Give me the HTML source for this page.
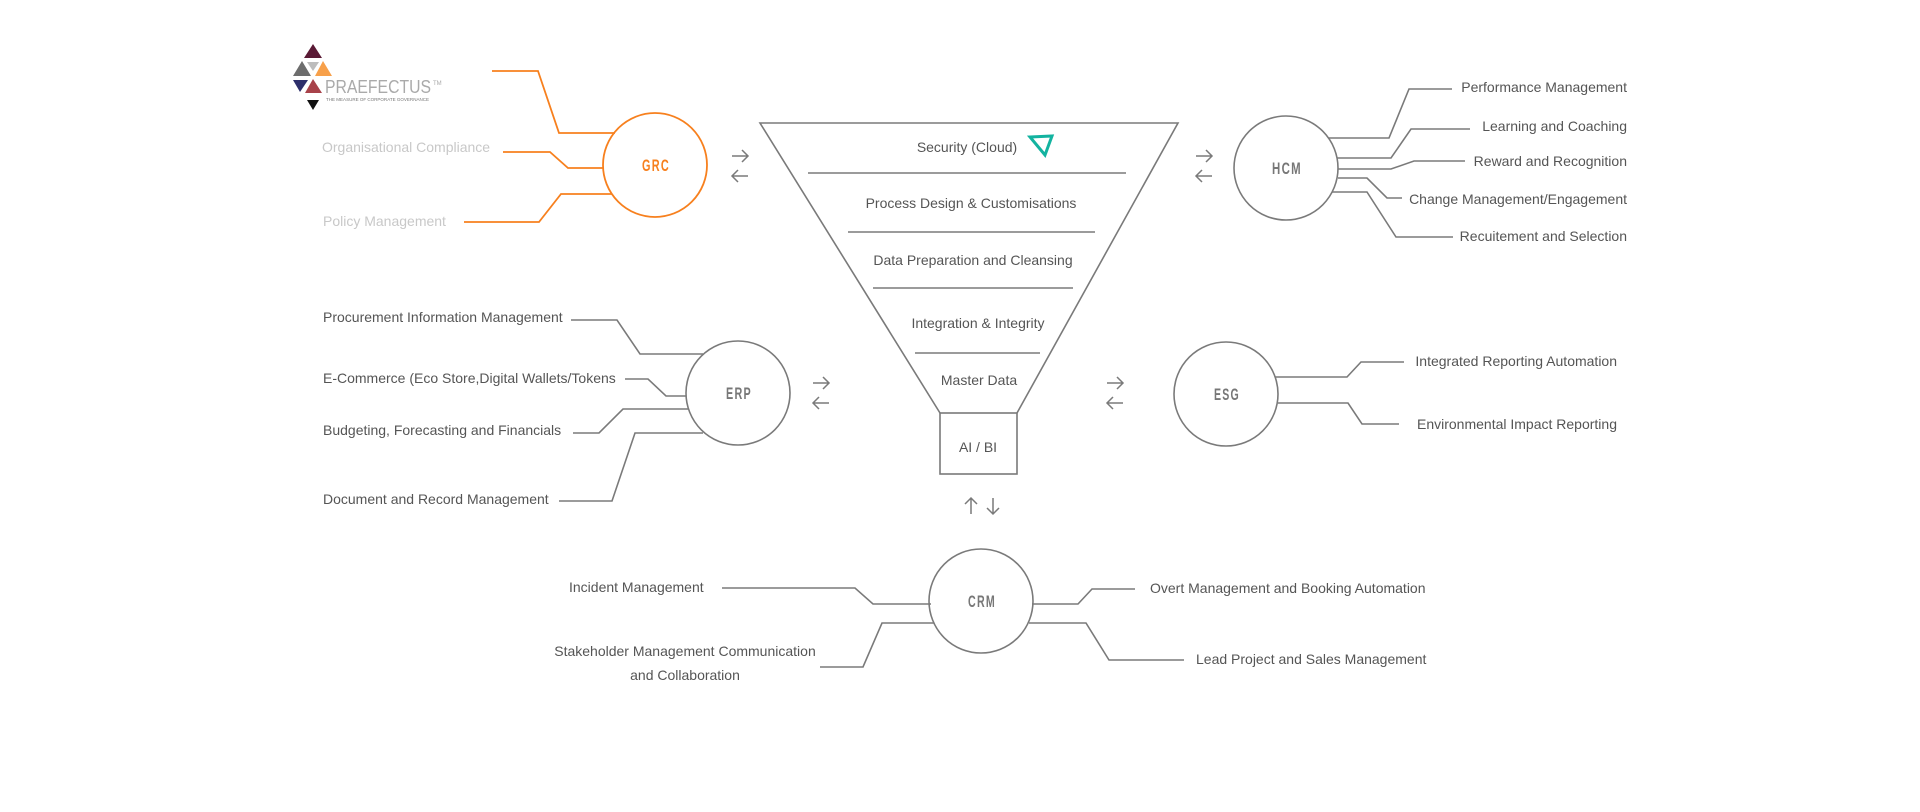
<!DOCTYPE html>
<html><head><meta charset="utf-8"><style>
html,body{margin:0;padding:0;background:#fff;}
svg{display:block;}
text{font-family:"Liberation Sans",Arial,sans-serif;}
.t{font-size:14px;fill:#555;}
.c{font-family:"Liberation Sans Narrow","Liberation Sans",sans-serif;font-weight:bold;font-size:17px;letter-spacing:2px;fill:#777;}
.l{fill:none;stroke:#7a7a7a;stroke-width:1.6;}
.o{fill:none;stroke:#f7801e;stroke-width:1.8;}
.a{fill:none;stroke:#7a7a7a;stroke-width:1.5;}
</style></head><body>
<svg width="1920" height="812" viewBox="0 0 1920 812" xmlns="http://www.w3.org/2000/svg">
<!-- logo -->
<polygon points="313,44 304,58 322,58" fill="#5a1a35"/>
<polygon points="302,61 293,76 311,76" fill="#6d6d6d"/>
<polygon points="307,62 319,62 313,71" fill="#bdbdbd"/>
<polygon points="323,61 315,76 332,76" fill="#f7a04a"/>
<polygon points="293,80 308,80 300,92" fill="#2d2f6b"/>
<polygon points="313,79 305,93 322,93" fill="#a8424a"/>
<polygon points="307,100 319,100 313,110" fill="#111"/>
<text x="325" y="93" textLength="106" lengthAdjust="spacingAndGlyphs" style="font-size:18px;fill:#aaa">PRAEFECTUS</text>
<text x="433" y="85" style="font-size:6px;fill:#aaa">TM</text>
<text x="326" y="101" textLength="103" lengthAdjust="spacingAndGlyphs" style="font-size:4.5px;fill:#777">THE MEASURE OF CORPORATE GOVERNANCE</text>

<!-- GRC -->
<circle cx="655" cy="165" r="52" class="o"/>
<text x="656" y="171" text-anchor="middle" class="c" style="fill:#f7801e" textLength="28" lengthAdjust="spacingAndGlyphs">GRC</text>
<polyline class="o" points="492,71 538,71 559,133 615,133"/>
<polyline class="o" points="503,152 550,152 568,168 603,168"/>
<polyline class="o" points="464,222 539,222 561,194 612,194"/>
<text x="322" y="152" class="t" style="fill:#c8c8c8">Organisational Compliance</text>
<text x="323" y="226" class="t" style="fill:#c8c8c8">Policy Management</text>

<!-- arrows pairs -->
<g class="a">
<path d="M732,156 H748 M742,150 L748,156 L742,162"/>
<path d="M732,176 H748 M738,170 L732,176 L738,182"/>
<path d="M1196,156 H1212 M1206,150 L1212,156 L1206,162"/>
<path d="M1196,176 H1212 M1202,170 L1196,176 L1202,182"/>
<path d="M813,383 H829 M823,377 L829,383 L823,389"/>
<path d="M813,403 H829 M819,397 L813,403 L819,409"/>
<path d="M1107,383 H1123 M1117,377 L1123,383 L1117,389"/>
<path d="M1107,403 H1123 M1113,397 L1107,403 L1113,409"/>
<path d="M971,514 V498 M965,504 L971,498 L977,504"/>
<path d="M993,498 V514 M987,508 L993,514 L999,508"/>
</g>

<!-- funnel -->
<polyline class="l" points="940,413 760,123 1178,123 1017,413"/>
<rect x="940" y="413" width="77" height="61" class="l"/>
<line class="l" x1="808" y1="173" x2="1126" y2="173"/>
<line class="l" x1="848" y1="232" x2="1095" y2="232"/>
<line class="l" x1="873" y1="288" x2="1073" y2="288"/>
<line class="l" x1="915" y1="353" x2="1040" y2="353"/>
<text x="967" y="152" text-anchor="middle" class="t">Security (Cloud)</text>
<polygon points="1030,137 1052,136 1045,155" fill="none" stroke="#13b3a0" stroke-width="3"/>
<text x="971" y="208" text-anchor="middle" class="t">Process Design &amp; Customisations</text>
<text x="973" y="265" text-anchor="middle" class="t">Data Preparation and Cleansing</text>
<text x="978" y="328" text-anchor="middle" class="t">Integration &amp; Integrity</text>
<text x="979" y="385" text-anchor="middle" class="t">Master Data</text>
<text x="978" y="452" text-anchor="middle" class="t">AI / BI</text>

<!-- HCM -->
<circle cx="1286" cy="168" r="52" class="l"/>
<text x="1287" y="174" text-anchor="middle" class="c" textLength="30" lengthAdjust="spacingAndGlyphs">HCM</text>
<polyline class="l" points="1328,138 1389,138 1409,89 1452,89"/>
<polyline class="l" points="1337,158 1391,158 1411,129 1470,129"/>
<polyline class="l" points="1338,169 1391,169 1414,161 1465,161"/>
<polyline class="l" points="1338,178 1367,178 1387,198 1402,198"/>
<polyline class="l" points="1332,192 1367,192 1396,237 1453,237"/>
<g class="t" text-anchor="end">
<text x="1627" y="92">Performance Management</text>
<text x="1627" y="131">Learning and Coaching</text>
<text x="1627" y="166">Reward and Recognition</text>
<text x="1627" y="204">Change Management/Engagement</text>
<text x="1627" y="241">Recuitement and Selection</text>
</g>

<!-- ESG -->
<circle cx="1226" cy="394" r="52" class="l"/>
<text x="1227" y="400" text-anchor="middle" class="c" textLength="26" lengthAdjust="spacingAndGlyphs">ESG</text>
<polyline class="l" points="1275,377 1347,377 1361,362 1404,362"/>
<polyline class="l" points="1278,403 1348,403 1362,424 1399,424"/>
<text x="1617" y="366" text-anchor="end" class="t">Integrated Reporting Automation</text>
<text x="1617" y="429" text-anchor="end" class="t">Environmental Impact Reporting</text>

<!-- ERP -->
<circle cx="738" cy="393" r="52" class="l"/>
<text x="739" y="399" text-anchor="middle" class="c" textLength="26" lengthAdjust="spacingAndGlyphs">ERP</text>
<polyline class="l" points="571,320 617,320 640,354 703,354"/>
<polyline class="l" points="625,379 648,379 666,396 686,396"/>
<polyline class="l" points="573,433 599,433 623,409 688,409"/>
<polyline class="l" points="559,501 612,501 635,433 703,433"/>
<text x="323" y="322" class="t">Procurement Information Management</text>
<text x="323" y="383" class="t">E-Commerce (Eco Store,Digital Wallets/Tokens</text>
<text x="323" y="435" class="t">Budgeting, Forecasting and Financials</text>
<text x="323" y="504" class="t">Document and Record Management</text>

<!-- CRM -->
<circle cx="981" cy="601" r="52" class="l"/>
<text x="982" y="607" text-anchor="middle" class="c" textLength="28" lengthAdjust="spacingAndGlyphs">CRM</text>
<polyline class="l" points="722,588 855,588 873,604 931,604"/>
<polyline class="l" points="820,667 863,667 882,623 934,623"/>
<polyline class="l" points="1032,604 1078,604 1092,589 1135,589"/>
<polyline class="l" points="1029,623 1086,623 1109,660 1184,660"/>
<text x="569" y="592" class="t">Incident Management</text>
<text x="685" y="656" text-anchor="middle" class="t">Stakeholder Management Communication</text>
<text x="685" y="680" text-anchor="middle" class="t">and Collaboration</text>
<text x="1150" y="593" class="t">Overt Management and Booking Automation</text>
<text x="1196" y="664" class="t">Lead Project and Sales Management</text>
</svg>
</body></html>
